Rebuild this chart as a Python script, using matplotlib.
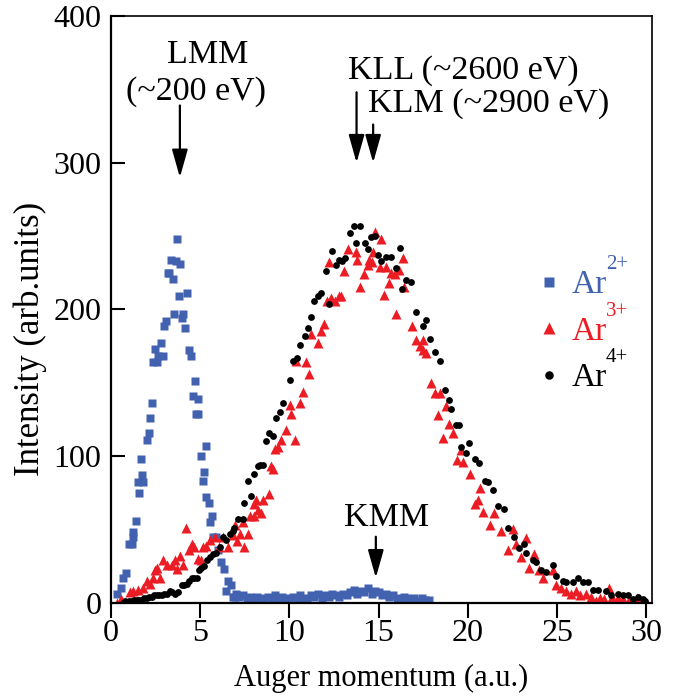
import matplotlib
matplotlib.use('Agg')
import matplotlib.pyplot as plt

plt.rcParams['font.family'] = ['Liberation Serif', 'DejaVu Serif']

# Ar2+ (blue squares)
ar2_x = [0.35, 0.54, 0.69, 0.84, 1.03, 1.16, 1.21, 1.25, 1.40, 1.53, 1.57, 1.66, 1.75, 1.77,
         2.00, 2.11, 2.20, 2.28, 2.33, 2.46, 2.56, 2.65, 2.78, 2.89, 2.98, 3.08, 3.17, 3.26,
         3.34, 3.45, 3.53, 3.64, 3.71, 3.79, 3.86, 3.97, 4.05, 4.14, 4.27, 4.38, 4.49, 4.57,
         4.68, 4.76, 4.85, 4.90, 5.02, 5.13, 5.20, 5.30, 5.35, 5.47, 5.54, 5.65, 5.73, 5.91,
         6.00, 6.19, 6.32, 6.47, 6.57, 6.75, 6.85, 6.95,
         7.0, 7.2, 7.4, 7.6, 7.8, 8.0, 8.2, 8.4, 8.6, 8.8, 9.0, 9.2, 9.4, 9.6, 9.8, 10.0,
         10.2, 10.4, 10.6, 10.8, 11.0, 11.2, 11.4, 11.6, 11.8, 12.0, 12.2, 12.4, 12.6, 12.8,
         13.0, 13.2, 13.4, 13.6, 13.8, 14.0, 14.2, 14.4, 14.6, 14.8, 15.0, 15.2, 15.4, 15.6,
         15.8, 16.0, 16.2, 16.4, 16.6, 16.8, 17.0, 17.2, 17.4, 17.6, 17.8]
ar2_y = [6, 10, 17, 20, 40, 40, 48, 45, 56, 82, 75, 98, 87, 82,
         111, 116, 126, 136, 164, 173, 164, 168, 177, 168, 189, 192, 225, 225,
         234, 221, 197, 233, 248, 209, 231, 194, 197, 187, 211, 172, 168, 141,
         151, 129, 139, 129, 100, 83, 89, 107, 72, 68, 55, 59, 45, 45,
         36, 28, 23, 8, 15, 12, 4, 4,
         6, 4, 5, 3, 4, 2, 4, 3, 2, 4, 3, 5, 2, 4, 3, 1,
         4, 3, 5, 3, 2, 5, 4, 6, 3, 5, 4, 6, 5, 4,
         6, 5, 7, 9, 6, 8, 7, 10, 6, 8, 7, 5, 6, 4,
         5, 3, 2, 4, 3, 2, 3, 1, 3, 2, 2]

# Ar3+ (red triangles)
ar3_x = [0.32, 0.54, 1.06, 1.25, 1.53, 1.81, 2.00, 2.18, 2.37, 2.46, 2.59, 2.74, 2.93, 3.12,
         3.40, 3.58, 3.71, 3.86, 4.05, 4.20, 4.38, 4.52, 4.66, 4.85, 5.06, 5.13, 5.32, 5.54,
         5.82, 6.06, 6.29, 6.57, 6.85, 6.94, 7.07, 7.22, 7.40, 7.44, 7.68, 7.78, 8.00, 8.02,
         8.15, 8.24, 8.43, 8.53, 8.86, 8.99, 9.05, 9.18, 9.36, 9.55, 9.83, 10.02, 10.11, 10.30,
         10.39, 10.61, 10.76, 10.91, 11.10, 11.23, 11.60, 11.74, 11.92, 12.11, 12.22, 12.35,
         12.54, 12.78, 12.91, 13.04, 13.28, 13.71, 13.79, 13.98, 14.16, 14.40, 14.46, 14.60,
         14.68, 14.77, 15.05, 15.15, 15.28, 15.43, 15.58, 15.71, 15.89, 15.99, 16.14, 16.36,
         16.40, 16.88, 17.10, 17.29, 17.48, 17.51, 17.67, 17.95, 18.13, 18.32, 18.45, 18.60,
         18.79, 18.93, 19.16, 19.38, 19.62, 19.72, 20.09, 20.37, 20.56, 20.65, 20.84, 21.21,
         21.49, 21.86, 22.24, 22.51, 22.70, 22.98, 23.26, 23.45, 23.73, 24.00, 24.19, 24.75,
         24.94, 25.20, 25.50, 25.80, 26.06, 26.30, 26.62, 26.90, 27.18, 27.40, 27.64, 27.92,
         28.10, 28.40, 28.67, 29.00, 29.23, 29.50, 29.79]
ar3_y = [0, 2.5, 7, 8, 9, 10, 15, 13, 17, 22, 24, 17, 29, 26,
         26, 29, 23, 32, 26, 51, 36, 40, 38, 30, 29, 38, 39, 43,
         45, 38, 45, 38, 46, 53, 42, 47, 55, 38, 47, 59, 59, 67,
         70, 63, 61, 70, 74, 93, 91, 105, 106, 111, 118, 135, 129, 111,
         165, 136, 144, 164, 156, 183, 177, 185, 190, 206, 232, 208,
         206, 209, 209, 226, 241, 239, 234, 215, 224, 230, 234, 232,
         239, 253, 229, 248, 210, 229, 218, 225, 224, 197, 227, 235,
         215, 189, 179, 175, 179, 172, 170, 150, 143, 128, 143, 112,
         134, 122, 116, 97, 104, 96, 88, 67, 70, 78, 62, 53,
         61, 49, 36, 50, 40, 31, 44, 24, 33, 22, 17, 22,
         12, 10, 8, 6, 8, 5, 6, 4, 1.4, 3, 2.5, 10,
         4, 3, 2.5, 2, 1.4, 3, 1.4]

# Ar4+ (black circles)
ar4_x = [0.65, 0.80, 1.00, 1.16, 1.30, 1.44, 1.58, 1.72, 1.86, 2.00, 2.14, 2.28, 2.42, 2.56,
         2.70, 2.84, 2.98, 3.12, 3.30, 3.44, 3.58, 3.77, 3.96, 4.10, 4.24, 4.38, 4.52, 4.66,
         4.80, 4.94, 5.07, 5.20, 5.39, 5.54, 5.73, 5.91, 6.10, 6.29, 6.44, 6.66, 6.81, 6.90,
         7.12, 7.37, 7.44, 7.68, 7.87, 8.00, 8.24, 8.34, 8.49, 8.67, 8.86, 9.05, 9.27, 9.46,
         9.64, 10.02, 10.20, 10.43, 10.61, 10.86, 11.04, 11.23, 11.36, 11.60, 11.79, 12.03,
         12.22, 12.41, 12.59, 12.78, 12.97, 13.10, 13.37, 13.60, 13.75, 13.97, 14.21, 14.40,
         14.59, 14.77, 14.96, 15.15, 15.43, 15.71, 15.95, 16.17, 16.32, 16.55, 16.83, 17.10,
         17.48, 17.67, 17.85, 18.13, 18.41, 18.69, 18.93, 19.06, 19.34, 19.50, 19.62, 19.90,
         20.05, 20.37, 20.61, 20.93, 21.12, 21.39, 21.67, 22.05, 22.24, 22.61, 22.89, 23.17,
         23.26, 23.63, 23.80, 24.10, 24.38, 24.75, 24.94, 25.31, 25.50, 25.87, 26.15, 26.43,
         26.71, 26.99, 27.27, 27.74, 28.02, 28.39, 28.67, 28.95, 29.23, 29.51, 29.79, 29.95]
ar4_y = [0, 1, 1, 1, 2, 2, 2, 2, 3, 3, 4, 4, 5, 5,
         5, 5, 6, 6, 8, 7, 6, 7, 12, 12, 13, 15, 17, 17,
         17, 22, 24, 25, 29, 31, 33, 34, 38, 45, 43, 47, 49, 51,
         57, 57, 68, 83, 73, 88, 93, 94, 94, 110, 116, 114, 126, 130,
         136, 152, 165, 167, 176, 182, 187, 195, 206, 209, 211, 226,
         204, 240, 230, 234, 233, 235, 252, 257, 245, 257, 245, 241,
         249, 250, 237, 233, 236, 236, 228, 242, 214, 220, 219, 198,
         189, 193, 180, 171, 165, 145, 138, 132, 121, 121, 106, 102,
         109, 98, 95, 83, 82, 77, 66, 64, 51, 45, 37, 40,
         34, 29, 28, 22, 21, 26, 18, 15, 14, 14, 17, 14,
         14, 9, 9, 8, 5, 6, 5, 5, 2.5, 4, 2.5, 1.4]

series_names = ['Ar', 'Ar', 'Ar']
series_charges = ['2+', '3+', '4+']
series_colors = ['#4262b0', '#ec1c24', '#000000']

peak_names = ['LMM', '(~200 eV)', 'KLL (~2600 eV)', 'KLM (~2900 eV)', 'KMM']

fig = plt.figure(figsize=(6.81, 6.96), dpi=100)
ax = fig.add_axes([0.163, 0.134, 0.794, 0.843])

h2, = ax.plot(ar2_x, ar2_y, 's', color=series_colors[0], ms=5.2, mec='none')
h3, = ax.plot(ar3_x, ar3_y, '^', color=series_colors[1], ms=7.4, mec='none')
h4, = ax.plot(ar4_x, ar4_y, 'o', color=series_colors[2], ms=4.9, mec='none')

ax.set_xlim(0, 30.3)
ax.set_ylim(0, 400)
ax.set_xticks([0, 5, 10, 15, 20, 25, 30])
ax.set_yticks([0, 100, 200, 300, 400])
ax.tick_params(axis='x', direction='out', length=11, width=1.5, pad=1, labelsize=23)
ax.tick_params(axis='y', direction='in', length=10, width=1.5, pad=7, labelsize=23)
for side in ['left', 'bottom']:
    ax.spines[side].set_linewidth(1.6)
for side in ['top', 'right']:
    ax.spines[side].set_linewidth(1.2)

ax.set_xlabel('Auger momentum (a.u.)', fontsize=22, labelpad=11)
ax.set_ylabel('Intensity (arb.units)', fontsize=25)
ax.yaxis.set_label_coords(-0.118, 0.45)

arrow = dict(arrowstyle='-|>,head_length=0.85,head_width=0.24', color='black',
             lw=1.6, mutation_scale=20, shrinkA=0, shrinkB=0)
ax.annotate('', xy=(3.86, 290), xytext=(3.86, 339), arrowprops=arrow)
ax.annotate('', xy=(13.76, 300), xytext=(13.76, 348), arrowprops=arrow)
ax.annotate('', xy=(14.69, 300), xytext=(14.69, 326), arrowprops=arrow)
ax.annotate('', xy=(14.84, 17), xytext=(14.84, 45), arrowprops=arrow)

ax.text(5.43, 368, peak_names[0], ha='center', va='baseline', fontsize=24.5)
ax.text(4.76, 343, peak_names[1], ha='center', va='baseline', fontsize=24.5)
ax.text(13.27, 357, peak_names[2], ha='left', va='baseline', fontsize=24.5)
ax.text(14.39, 335, peak_names[3], ha='left', va='baseline', fontsize=24.5)
ax.text(15.45, 52, peak_names[4], ha='center', va='baseline', fontsize=24.5)

leg = ax.legend([h2, h3, h4], series_names, loc='center left', bbox_to_anchor=(0.78, 0.462),
                frameon=False, fontsize=24, handletextpad=0.18, labelspacing=0.48,
                handlelength=1.0, borderaxespad=0, borderpad=0, markerscale=1.25)
leg.set_zorder(5)
for txt, col, charge in zip(leg.get_texts(), series_colors, series_charges):
    txt.set_color(col)
    sup = ax.annotate(charge, xy=(1, 1), xycoords=txt, xytext=(-1, -3),
                      textcoords='offset points', ha='left', va='bottom',
                      fontsize=15, color=col)
    sup.set_zorder(6)

fig.savefig('out.png', dpi=100)
